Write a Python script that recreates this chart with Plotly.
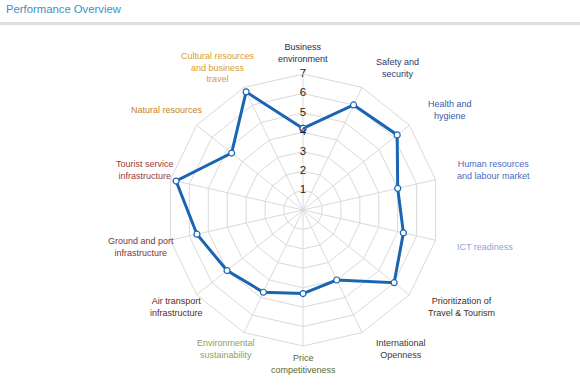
import math
import plotly.graph_objects as go

categories = [
    "Business environment", "Safety and security", "Health and hygiene",
    "Human resources and labour market", "ICT readiness",
    "Prioritization of Travel & Tourism", "International Openness",
    "Price competitiveness", "Environmental sustainability",
    "Air transport infrastructure", "Ground and port infrastructure",
    "Tourist service infrastructure", "Natural resources",
    "Cultural resources and business travel",
]
label_lines = [
    "Business<br>environment", "Safety and<br>security", "Health and<br>hygiene",
    "Human resources<br>and labour market", "ICT readiness",
    "Prioritization of<br>Travel & Tourism", "International<br>Openness",
    "Price<br>competitiveness", "Environmental<br>sustainability",
    "Air transport<br>infrastructure", "Ground and port<br>infrastructure",
    "Tourist service<br>infrastructure", "Natural resources",
    "Cultural resources<br>and business<br>travel",
]
values = [4.2, 6.0, 6.2, 5.0, 5.3, 6.0, 4.0, 4.3, 4.7, 5.0, 5.6, 6.7, 4.7, 6.75]
label_colors = [
    "#1f2d4d", "#2b3a67", "#3c5aa6", "#4a6cc0", "#8ea4dc",
    "#3b3326", "#3a3a3a", "#5b6a2a", "#8fa352",
    "#5b1f1f", "#843232", "#9a3838", "#c8821e", "#dc9c30",
]
tick_values = [1, 2, 3, 4, 5, 6, 7]
tick_labels = ["1", "2", "3", "4", "5", "6", "7"]

# layout geometry (pixels)
W, H = 580, 386
CX, CY, R = 303, 210, 136
LABEL_DIST = 15
FONT = "Liberation Sans, Arial"

fig = go.Figure()
fig.add_trace(go.Scatterpolar(
    r=values + [values[0]],
    theta=categories + [categories[0]],
    mode="lines+markers",
    line=dict(color="#1a64b4", width=3),
    marker=dict(size=6, color="white", line=dict(color="#1a64b4", width=1.2)),
    hoverinfo="skip",
    showlegend=False,
))
fig.add_trace(go.Scatterpolar(
    r=tick_values,
    theta=[categories[0]] * len(tick_values),
    mode="text",
    text=tick_labels,
    textposition="middle center",
    textfont=dict(family=FONT, size=11.5, color="#222222"),
    hoverinfo="skip",
    showlegend=False,
    cliponaxis=False,
))

fig.update_layout(
    width=W, height=H,
    margin=dict(l=0, r=0, t=0, b=0),
    paper_bgcolor="white",
    plot_bgcolor="white",
    font=dict(family=FONT, size=9),
    polar=dict(
        domain=dict(x=[(CX - R) / W, (CX + R) / W],
                    y=[1 - (CY + R) / H, 1 - (CY - R) / H]),
        bgcolor="white",
        gridshape="linear",
        radialaxis=dict(
            range=[0, 7], tickvals=tick_values, showticklabels=False,
            ticks="", showline=False, gridcolor="#dadada", gridwidth=1,
        ),
        angularaxis=dict(
            direction="clockwise", rotation=90,
            categoryarray=categories, categoryorder="array",
            showticklabels=False, ticks="",
            linecolor="#dadada", gridcolor="#dadada",
        ),
    ),
)

# category labels placed around the pane, aligned by angle
n = len(categories)
for i, (txt, col) in enumerate(zip(label_lines, label_colors)):
    ang = i * 360.0 / n
    s, c = math.sin(math.radians(ang)), math.cos(math.radians(ang))
    px = CX + (R + LABEL_DIST) * s
    py = CY - (R + LABEL_DIST) * c
    if 20 < ang < 160:
        xa = "left"
        px += 5
    elif 200 < ang < 340:
        xa = "right"
        px += 20
    else:
        xa = "center"
    py += -6 if c > 0 else 3
    fig.add_annotation(
        x=px / W, y=1 - py / H, xref="paper", yref="paper",
        text=txt, showarrow=False, align="center",
        xanchor=xa, yanchor="middle",
        font=dict(family=FONT, size=9, color=col),
    )

fig.add_annotation(
    x=4 / W, y=1 - 9.5 / H, xref="paper", yref="paper",
    text="Performance Overview", showarrow=False,
    xanchor="left", yanchor="middle",
    font=dict(family=FONT, size=11.3, color="#3d8fc9"),
)
fig.add_shape(
    type="line", xref="paper", yref="paper",
    x0=0, x1=1, y0=1 - 23.5 / H, y1=1 - 23.5 / H,
    line=dict(color="#dedede", width=3),
)
fig.write_html(
    "out.html",
    config={"displayModeBar": False},
    post_script="document.body.style.margin='0px';",
)
